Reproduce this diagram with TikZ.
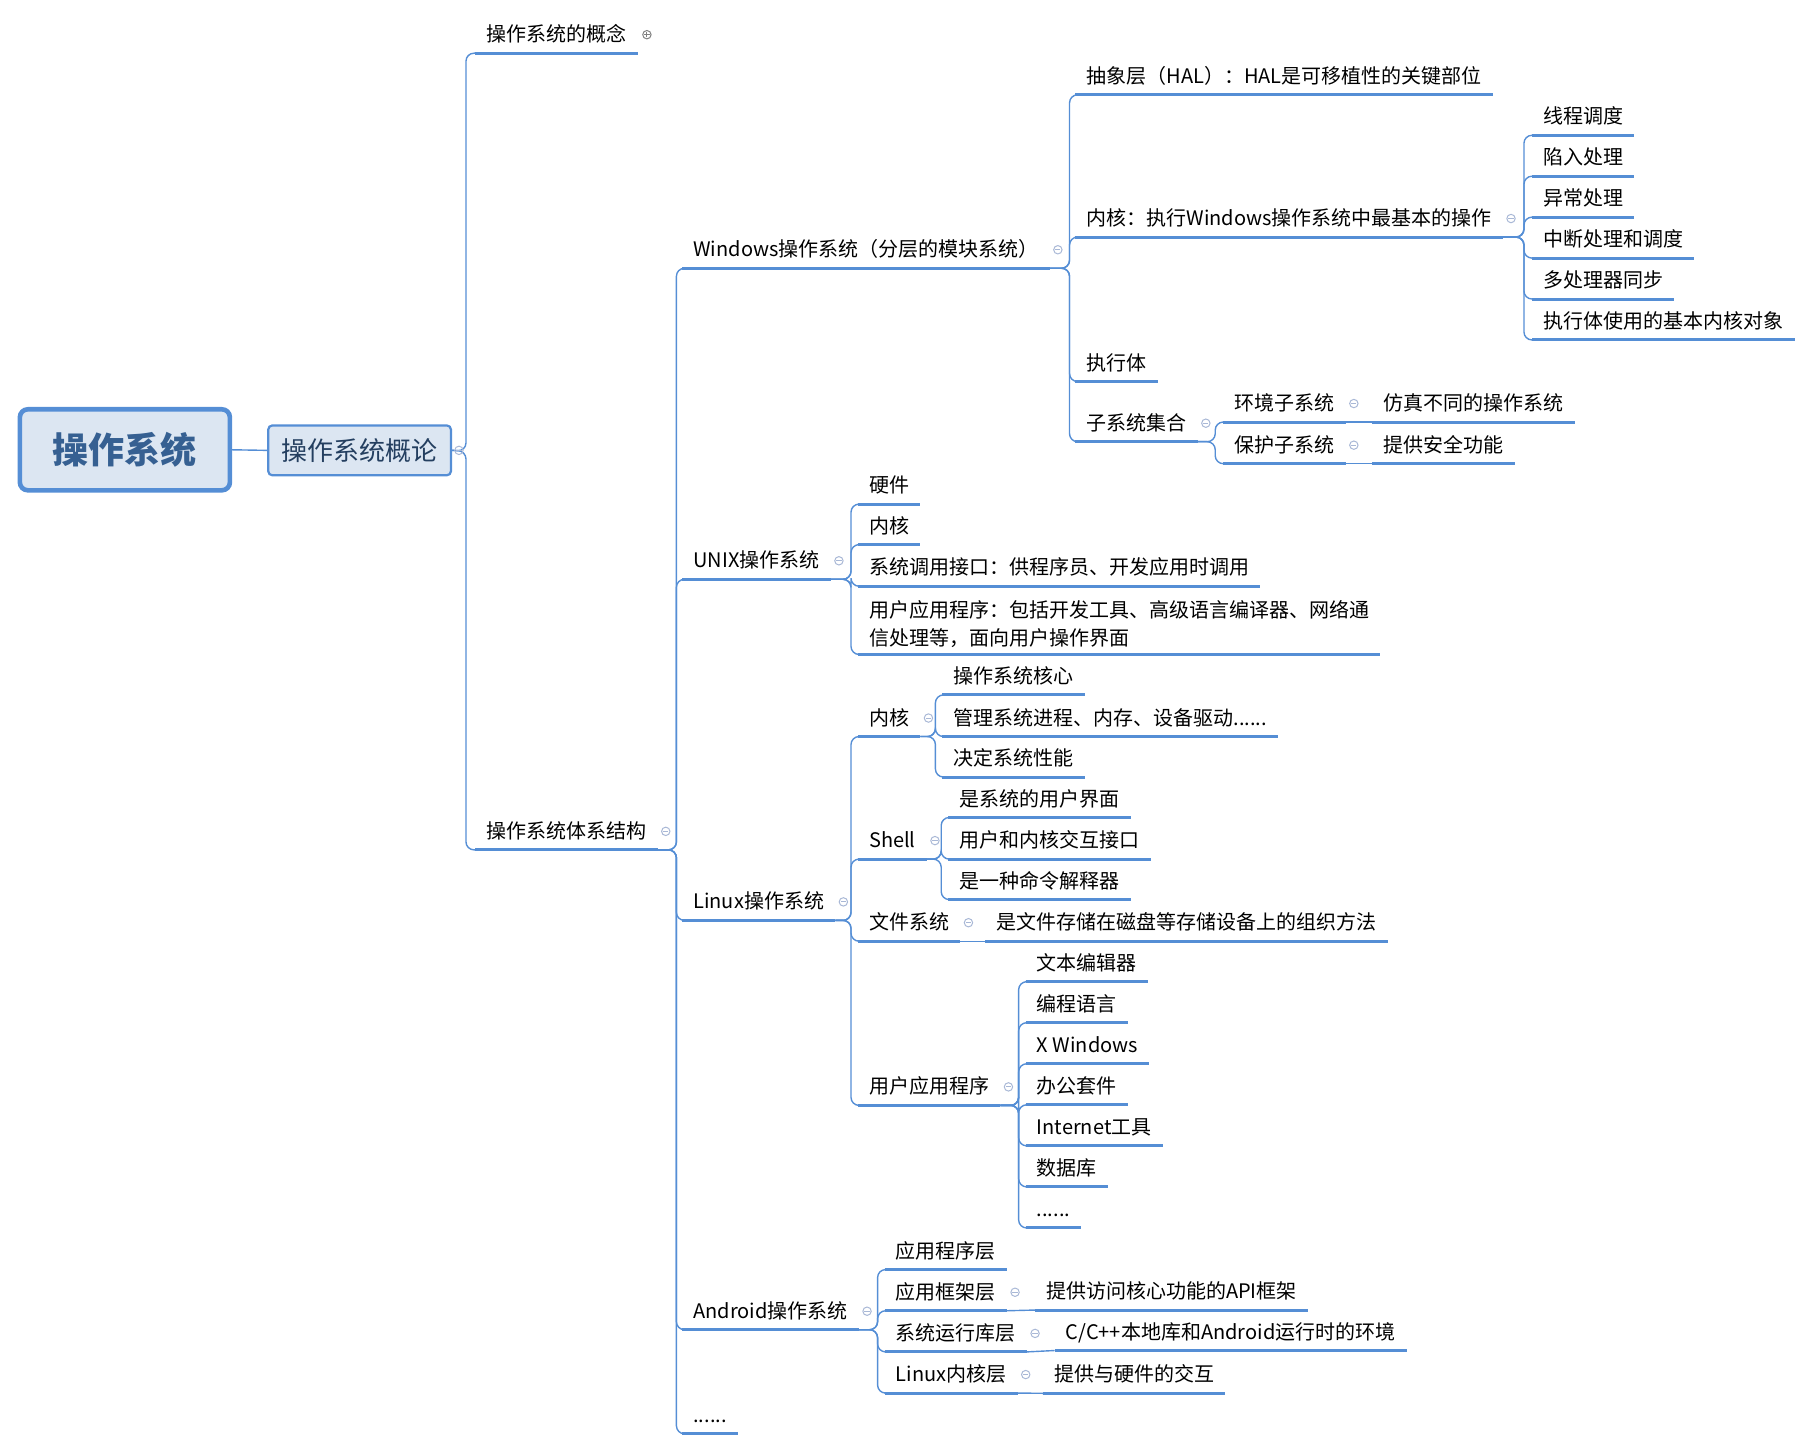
\documentclass[tikz,border=0pt]{standalone}
\usepackage{fontspec}
\setmainfont{Noto Sans CJK SC}
\usetikzlibrary{calc}

\definecolor{lineblue}{HTML}{558ED5}
\definecolor{rootfill}{HTML}{DCE6F2}
\definecolor{roottext}{HTML}{366092}
\definecolor{boxtext}{HTML}{243F60}
\definecolor{foldgray}{HTML}{A9B8D6}

\begin{document}
\begin{tikzpicture}[
    x=0.578pt,
    y=-0.578pt,
    topicbase/.style={
        anchor=south west,
        inner xsep=5.4pt,
        inner ysep=3pt,
        font=\fontsize{10}{14}\selectfont
    },
    topic/.style={
        topicbase,
        text height=0.8em,
        text depth=0.25em
    },
    rootbox/.style={
        draw=lineblue,
        line width=2.3pt,
        fill=rootfill,
        rounded corners=4pt,
        minimum width=105pt,
        minimum height=40.5pt,
        text=roottext,
        font=\fontsize{18}{22}\selectfont\bfseries
    },
    mainbox/.style={
        draw=lineblue,
        line width=1.1pt,
        fill=rootfill,
        rounded corners=2pt,
        minimum width=91.3pt,
        minimum height=24.9pt,
        text=boxtext,
        font=\fontsize{13}{16}\selectfont
    },
    uline/.style={draw=lineblue, line width=1.5pt},
    link/.style={draw=lineblue, line width=0.7pt, rounded corners=4pt},
    fold/.style={
        circle,
        draw=foldgray,
        line width=0.5pt,
        minimum size=4.2pt,
        inner sep=0pt,
        path picture={\draw[foldgray, line width=0.5pt] (-1.3pt,0) -- (1.3pt,0);}
    },
    foldplus/.style={
        fold,
        draw=gray,
        path picture={\draw[gray, line width=0.5pt] (-1.3pt,0) -- (1.3pt,0) (0,-1.3pt) -- (0,1.3pt);}
    }
]
    \useasboundingbox (0,0) rectangle (1568,1254);

    % Centre and first branch
    \node[rootbox] (os) at (108,389) {操作系统};
    \node[mainbox] (gl) at (311,389.5) {操作系统概论};
    \draw[link] (os.east) -- (gl.west);

    % Level 2
    \node[topic] (con) at (411,46) {操作系统的概念};
    \node[topic] (arch) at (411,735) {操作系统体系结构};

    % Operating system families
    \node[topic] (win) at (590,232) {Windows操作系统（分层的模块系统）};
    \node[topic] (unix) at (590,501) {UNIX操作系统};
    \node[topic] (linux) at (590,796) {Linux操作系统};
    \node[topic] (andr) at (590,1150) {Android操作系统};
    \node[topic] (more) at (590,1240) {......};

    % Windows
    \node[topic] (hal) at (930,82) {抽象层（HAL）：HAL是可移植性的关键部位};
    \node[topic] (wkern) at (930,205) {内核：执行Windows操作系统中最基本的操作};
    \node[topic] (wexec) at (930,330) {执行体};
    \node[topic] (wsub) at (930,382) {子系统集合};

    \foreach \t [count=\i] in {线程调度,陷入处理,异常处理,中断处理和调度,多处理器同步,执行体使用的基本内核对象} {
        \node[topic] (wk\i) at (1325,{117+35.4*(\i-1)}) {\t};
    }

    \node[topic] (env) at (1058,365) {环境子系统};
    \node[topic] (envd) at (1187,365) {仿真不同的操作系统};
    \node[topic] (prot) at (1058,401) {保护子系统};
    \node[topic] (protd) at (1187,401) {提供安全功能};

    % UNIX
    \foreach \t/\y [count=\i] in {硬件/436,内核/471,系统调用接口：供程序员、开发应用时调用/507} {
        \node[topic] (u\i) at (742,\y) {\t};
    }
    \node[topicbase, align=left] (u4) at (742,566)
        {用户应用程序：包括开发工具、高级语言编译器、网络通\\信处理等，面向用户操作界面};

    % Linux
    \node[topic] (lk) at (742,637) {内核};
    \node[topic] (lsh) at (742,743) {Shell};
    \node[topic] (lfs) at (742,814) {文件系统};
    \node[topic] (lapp) at (742,956) {用户应用程序};

    \foreach \t/\y [count=\i] in {操作系统核心/601,{管理系统进程、内存、设备驱动{......}}/637,决定系统性能/672} {
        \node[topic] (lk\i) at (815,\y) {\t};
    }
    \foreach \t/\y [count=\i] in {是系统的用户界面/707,用户和内核交互接口/743,是一种命令解释器/778} {
        \node[topic] (sh\i) at (820,\y) {\t};
    }
    \node[topic] (lfsd) at (852,814) {是文件存储在磁盘等存储设备上的组织方法};
    \foreach \t [count=\i] in {文本编辑器,编程语言,X Windows,办公套件,Internet工具,数据库,{{......}}} {
        \node[topic] (la\i) at (887,{849+35.5*(\i-1)}) {\t};
    }

    % Android
    \foreach \t [count=\i] in {应用程序层,应用框架层,系统运行库层,Linux内核层} {
        \node[topic] (a\i) at (765,{1098+35.6*(\i-1)}) {\t};
    }
    \node[topic] (a2d) at (895,1133) {提供访问核心功能的API框架};
    \node[topic] (a3d) at (912,1168) {C/C++本地库和Android运行时的环境};
    \node[topic] (a4d) at (902,1205) {提供与硬件的交互};

    % Junctions
    \coordinate (j0) at (403,390);
    \coordinate (jarch) at (585,735);
    \coordinate (jwin) at (925,232);
    \coordinate (jwk) at (1318,205);
    \coordinate (jsub) at (1051,382);
    \coordinate (junix) at (736,501);
    \coordinate (jlin) at (736,796);
    \coordinate (jlk) at (809,637);
    \coordinate (jsh) at (814,743);
    \coordinate (jla) at (881,956);
    \coordinate (jand) at (759,1150);

    % Connectors
    \foreach \c in {con,arch} \draw[link] (gl.east) -- (j0) |- (\c.south west);
    \foreach \c in {win,unix,linux,andr,more} \draw[link] (arch.south east) -- (jarch) |- (\c.south west);
    \foreach \c in {hal,wkern,wexec,wsub} \draw[link] (win.south east) -- (jwin) |- (\c.south west);
    \foreach \i in {1,2,3,4,5,6} \draw[link] (wkern.south east) -- (jwk) |- (wk\i.south west);
    \foreach \c in {env,prot} \draw[link] (wsub.south east) -- (jsub) |- (\c.south west);
    \foreach \i in {1,2,3,4} \draw[link] (unix.south east) -- (junix) |- (u\i.south west);
    \foreach \c in {lk,lsh,lfs,lapp} \draw[link] (linux.south east) -- (jlin) |- (\c.south west);
    \foreach \i in {1,2,3} \draw[link] (lk.south east) -- (jlk) |- (lk\i.south west);
    \foreach \i in {1,2,3} \draw[link] (lsh.south east) -- (jsh) |- (sh\i.south west);
    \foreach \i in {1,2,3,4,5,6,7} \draw[link] (lapp.south east) -- (jla) |- (la\i.south west);
    \foreach \i in {1,2,3,4} \draw[link] (andr.south east) -- (jand) |- (a\i.south west);
    \foreach \a/\b in {env/envd,prot/protd,lfs/lfsd,a2/a2d,a3/a3d,a4/a4d}
        \draw[link] (\a.south east) -- (\b.south west);

    % Underlines
    \foreach \n in {con,arch,win,unix,linux,andr,more,hal,wkern,wexec,wsub,
                    wk1,wk2,wk3,wk4,wk5,wk6,env,envd,prot,protd,u1,u2,u3,u4,
                    lk,lsh,lfs,lapp,lk1,lk2,lk3,sh1,sh2,sh3,lfsd,
                    la1,la2,la3,la4,la5,la6,la7,a1,a2,a3,a4,a2d,a3d,a4d}
        \draw[uline] (\n.south west) -- (\n.south east);

    % Fold markers
    \node[fold] (f-gl) at ($(gl.east)+(6,0)$) {};
    \node[foldplus] (f-con) at ($(con.south east)+(8,-16)$) {};
    \foreach \n in {arch,win,unix,linux,andr,wkern,wsub,env,prot,lk,lsh,lfs,lapp,a2,a3,a4}
        \node[fold] (f-\n) at ($(\n.south east)+(7,-16)$) {};
\end{tikzpicture}
\end{document}
